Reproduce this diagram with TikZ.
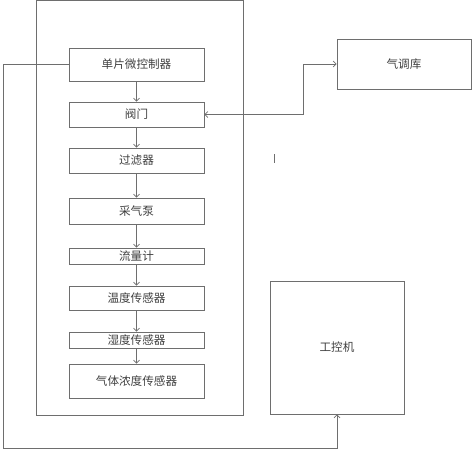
\documentclass[tikz,border=0pt]{standalone}
\usepackage{fontspec}
\setmainfont{Noto Sans CJK SC}
\usetikzlibrary{arrows.meta}
\definecolor{linegray}{HTML}{6E6E6E}
\definecolor{textgray}{HTML}{404040}
\tikzset{
  unit/.style={draw=linegray, line width=0.8pt, minimum width=135pt, inner sep=0pt, text=textgray, font=\fontsize{11.6}{13}\selectfont},
  link/.style={draw=linegray, line width=0.7pt, -{Straight Barb[length=3pt,width=6pt]}},
}
\begin{document}
\begin{tikzpicture}[x=1pt,y=-1pt]
    \useasboundingbox (0,0) rectangle (473,450);

    % Outer frame
    \draw[linegray, line width=0.8pt] (36,0.5) rectangle (243,415);

    % Units in the frame
    \node[unit, minimum height=33pt] (mcu) at (136.5,64.5) {单片微控制器};
    \node[unit, minimum height=25pt] (valve) at (136.5,114.5) {阀门};
    \node[unit, minimum height=25pt] (filter) at (136.5,160.5) {过滤器};
    \node[unit, minimum height=26pt] (pump) at (136.5,211) {采气泵};
    \node[unit, minimum height=16pt] (flow) at (136.5,256) {流量计};
    \node[unit, minimum height=24pt] (temp) at (136.5,298) {温度传感器};
    \node[unit, minimum height=16pt] (humid) at (136.5,340) {湿度传感器};
    \node[unit, minimum height=34pt] (gas) at (136.5,381) {气体浓度传感器};

    % Outside units
    \node[unit, minimum width=134pt, minimum height=50pt] (store) at (404,64) {气调库};
    \node[unit, minimum width=134pt, minimum height=133pt] (ipc) at (337,347.5) {工控机};

    % Chain
    \draw[link] (mcu) -- (valve);
    \draw[link] (valve) -- (filter);
    \draw[link] (filter) -- (pump);
    \draw[link] (pump) -- (flow);
    \draw[link] (flow) -- (temp);
    \draw[link] (temp) -- (humid);
    \draw[link] (humid) -- (gas);

    % Valve to store
    \draw[link, {Straight Barb[length=3pt,width=6pt]}-{Straight Barb[length=3pt,width=6pt]}]
        (valve.east) -- (303,114.5) |- (store.west);

    % Feedback to IPC
    \draw[link] (mcu.west) -- (3,64.5) -- (3,448) -| (ipc.south);

    % stray mark
    \draw[linegray, line width=0.6pt] (274,154) -- (274,163);
\end{tikzpicture}
\end{document}
